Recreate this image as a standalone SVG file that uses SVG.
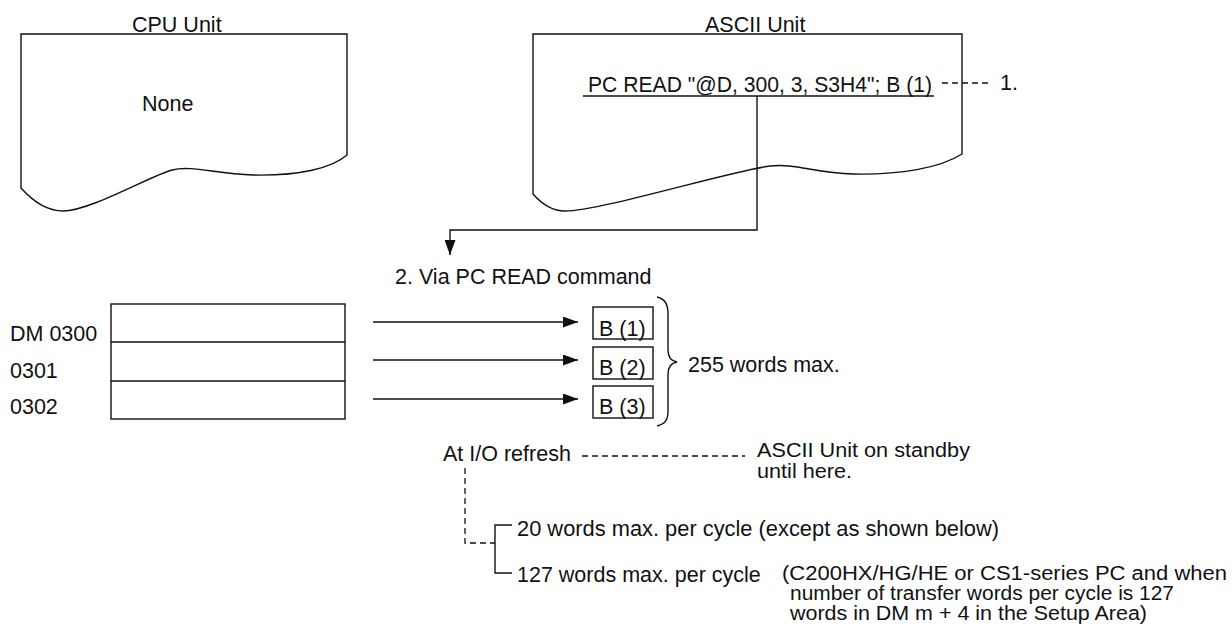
<svg xmlns="http://www.w3.org/2000/svg" width="1232" height="628" viewBox="0 0 1232 628">
<style>
text{font-family:"Liberation Sans",Arial,Helvetica,sans-serif;font-size:21.5px;fill:#111}
.sm{font-size:19.5px}
.ln{fill:none;stroke:#111;stroke-width:1.4}
.sh{fill:#fff;stroke:#111;stroke-width:1.4}
.ds{fill:none;stroke:#111;stroke-width:1.3;stroke-dasharray:6,4}
</style>
<defs>
<marker id="ah" markerUnits="userSpaceOnUse" markerWidth="15" markerHeight="11" refX="15" refY="5.5" orient="auto">
<path d="M0,0 L15,5.5 L0,11 Z" fill="#111"/>
</marker>
</defs>
<rect width="1232" height="628" fill="#fff"/>

<g id="cpu-unit">
<path class="sh" d="M21,34 H347 V155 C332,168 300,176 253,175 C215,174 192,165 172,170 C150,176 90,211 63,211 C45,211 30,198 21,188 Z"/>
<text x="132" y="32">CPU Unit</text>
<text x="142" y="111">None</text>
</g>

<g id="ascii-unit">
<path class="sh" d="M533,34 H962 V154 C940,168 900,175 853,174 C815,173 795,163 770,166 C730,171 600,211 565,211 C550,211 540,202 533,194 Z"/>
<text x="705" y="32">ASCII Unit</text>
<text x="588" y="92" textLength="344" lengthAdjust="spacingAndGlyphs">PC READ "@D, 300, 3, S3H4"; B (1)</text>
<line class="ln" x1="583" y1="96" x2="934" y2="96"/>
</g>

<g id="note-1">
<text x="1000" y="90">1.</text>
</g>

<g id="step-2">
<text x="395" y="284">2. Via PC READ command</text>
</g>

<g id="dm-table">
<rect class="sh" x="111" y="304" width="234" height="115"/>
<line class="ln" x1="111" y1="342" x2="345" y2="342"/>
<line class="ln" x1="111" y1="381" x2="345" y2="381"/>
<text x="10" y="341">DM 0300</text>
<text x="10" y="378">0301</text>
<text x="10" y="414">0302</text>
</g>

<g id="b-vars">
<rect class="sh" x="593" y="307" width="60" height="32"/>
<rect class="sh" x="593" y="347" width="60" height="32"/>
<rect class="sh" x="593" y="386" width="60" height="32"/>
<text x="599" y="336">B (1)</text>
<text x="599" y="375">B (2)</text>
<text x="599" y="414">B (3)</text>
<path class="ln" d="M657,297 C665,299 668,304 668,314 V350 C668,357 671,361 677,362 C671,363 668,367 668,374 V411 C668,420 665,424 657,426"/>
<text x="688" y="372">255 words max.</text>
</g>

<g id="refresh-notes">
<text x="443" y="461">At I/O refresh</text>
<text class="sm" x="757" y="457" textLength="213" lengthAdjust="spacingAndGlyphs">ASCII Unit on standby</text>
<text class="sm" x="757" y="478" textLength="95" lengthAdjust="spacingAndGlyphs">until here.</text>
<text x="517" y="536" textLength="482" lengthAdjust="spacingAndGlyphs">20 words max. per cycle (except as shown below)</text>
<text x="517" y="582">127 words max. per cycle</text>
<text class="sm" x="782" y="580" textLength="445" lengthAdjust="spacingAndGlyphs">(C200HX/HG/HE or CS1-series PC and when</text>
<text class="sm" x="790" y="600" textLength="384" lengthAdjust="spacingAndGlyphs">number of transfer words per cycle is 127</text>
<text class="sm" x="790" y="620" textLength="357" lengthAdjust="spacingAndGlyphs">words in DM m + 4 in the Setup Area)</text>
</g>

<g id="connectors">
<path class="ln" d="M757,96 V230 H450 V255" marker-end="url(#ah)"/>
<line class="ds" x1="942" y1="83" x2="990" y2="83"/>
<line class="ln" x1="373" y1="322" x2="578" y2="322" marker-end="url(#ah)"/>
<line class="ln" x1="373" y1="360" x2="578" y2="360" marker-end="url(#ah)"/>
<line class="ln" x1="373" y1="399" x2="578" y2="399" marker-end="url(#ah)"/>
<line class="ds" x1="582" y1="456" x2="745" y2="456"/>
<path class="ds" d="M465,468 V543 H495"/>
<path class="ln" d="M512,525 H495 V573 H512"/>
</g>
</svg>
